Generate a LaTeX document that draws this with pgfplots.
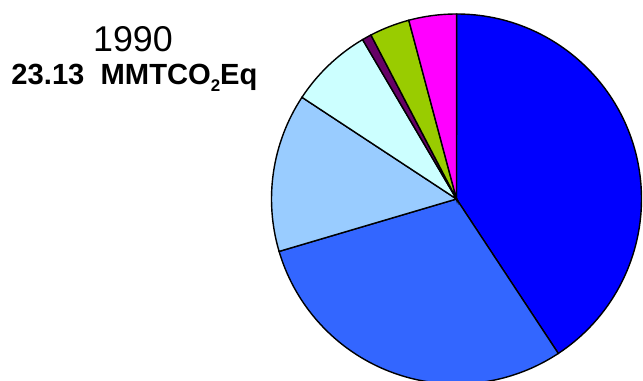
\documentclass[border=0pt]{standalone}
\usepackage{pgfplots}
\pgfplotsset{compat=1.18}
\usepackage{pgfplotstable}
\usepackage{fontspec}
\setmainfont{Liberation Sans}
\definecolor{s1}{HTML}{0000FF}
\definecolor{s2}{HTML}{3366FF}
\definecolor{s3}{HTML}{99CCFF}
\definecolor{s4}{HTML}{CCFFFF}
\definecolor{s5}{HTML}{660066}
\definecolor{s6}{HTML}{99CC00}
\definecolor{s7}{HTML}{FF00FF}
\pgfplotstableread{
value col
9.42 s1
6.87 s2
3.20 s3
1.68 s4
0.19 s5
0.81 s6
0.96 s7
}\piedata
\begin{document}
\begin{tikzpicture}
\begin{axis}[scale only axis, width=6.43cm, height=3.81cm,
  xmin=0, xmax=643, ymin=0, ymax=381, hide axis, clip=false]
\addplot[draw=none] coordinates {(0,0) (643,381)};
\pgfplotsextra{
  \def\cum{0}
  \pgfplotsforeachungrouped \i in {0,...,6}{
    \pgfplotstablegetelem{\i}{value}\of\piedata \let\v\pgfplotsretval
    \pgfplotstablegetelem{\i}{col}\of\piedata \let\slicecol\pgfplotsretval
    \pgfmathsetmacro\sa{90-\cum/23.13*360}
    \pgfmathsetmacro\sb{90-(\cum+\v)/23.13*360}
    \filldraw[fill=\slicecol, draw=black, line width=0.4pt]
      (axis cs:456.5,182) -- ++(\sa:1.85cm) arc[start angle=\sa, end angle=\sb, radius=1.85cm] -- cycle;
    \pgfmathsetmacro\cum{\cum+\v}
  }
}
\node[anchor=base, font=\fontsize{10.2}{12}\selectfont] at (axis cs:133,329) {1990};
\node[anchor=base, font=\fontsize{8.3}{9}\selectfont\bfseries] at (axis cs:134.5,296)
  {23.13\ \ MMTCO\raisebox{-0.45ex}{\fontsize{4.8}{5}\selectfont 2}Eq};
\end{axis}
\pgfresetboundingbox
\path[use as bounding box] (current axis.south west) rectangle (current axis.north east);
\end{tikzpicture}
\end{document}
